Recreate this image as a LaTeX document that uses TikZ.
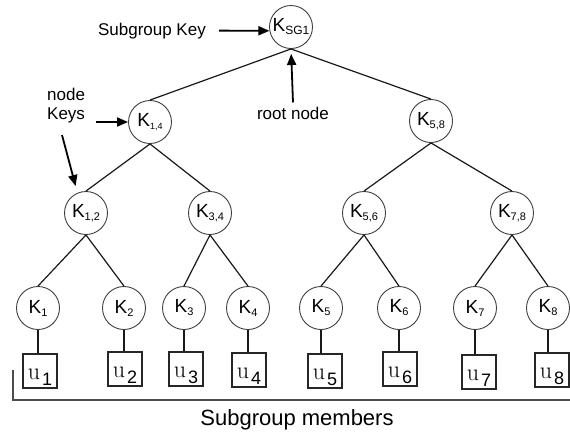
\documentclass[tikz,border=0pt]{standalone}
\usepackage{fontspec}
\setsansfont{Liberation Sans}
\usetikzlibrary{arrows.meta}
\newcommand{\Kn}[2][11]{{\fontsize{19}{19}\selectfont K}\raisebox{-3pt}{\fontsize{#1}{#1}\selectfont #2}}
\newcommand{\Un}[1]{{\rmfamily\fontsize{24}{24}\selectfont u}\hspace{2pt}\raisebox{-6pt}{\sffamily\fontsize{18}{18}\selectfont #1}}
\begin{document}
\begin{tikzpicture}[x=1pt,y=-1pt,
  kc/.style={circle, draw=black!75, line width=0.9pt, minimum size=43pt, inner sep=0pt, font=\sffamily},
  ub/.style={draw=black!85, line width=1.1pt, minimum size=34pt, inner sep=0pt, text height=25pt, text depth=9pt},
  edge/.style={line width=1.2pt, black!90},
  arr/.style={line width=1.8pt, -{Triangle[length=11pt,width=9pt]}},
  lbl/.style={font=\sffamily\fontsize{17}{17}\selectfont, inner sep=0pt},
  bracket/.style={line width=1.3pt, black!70}]
\fill[white] (0,0) rectangle (570,437);
\useasboundingbox (0,0) rectangle (570,437);

% tree nodes
\node[kc] (root) at (291,27) {\Kn[12]{SG1}};
\node[kc] (k14) at (150,122) {\Kn[9]{1,4}};
\node[kc] (k58) at (431,121) {\Kn{5,8}};
\node[kc] (k12) at (86,213) {\Kn{1,2}};
\node[kc] (k34) at (210,213) {\Kn{3,4}};
\node[kc] (k56) at (364,213) {\Kn{5,6}};
\node[kc] (k78) at (512,213) {\Kn{7,8}};
\node[kc] (k1) at (38,308) {\Kn{1}};
\node[kc] (k2) at (124,308) {\Kn{2}};
\node[kc] (k3) at (184,308) {\Kn{3}};
\node[kc] (k4) at (248,308) {\Kn{4}};
\node[kc] (k5) at (321,308) {\Kn{5}};
\node[kc] (k6) at (399,308) {\Kn{6}};
\node[kc] (k7) at (475,308) {\Kn{7}};
\node[kc] (k8) at (548,308) {\Kn{8}};

% member boxes
\node[ub] (u1) at (40,371) {\Un{1}};
\node[ub] (u2) at (125,369) {\Un{2}};
\node[ub] (u3) at (186,369) {\Un{3}};
\node[ub] (u4) at (249,370) {\Un{4}};
\node[ub] (u5) at (325,371) {\Un{5}};
\node[ub] (u6) at (400,369) {\Un{6}};
\node[ub] (u7) at (479,372) {\Un{7}};
\node[ub] (u8) at (552,370) {\Un{8}};

% tree edges
\draw[edge] (root.south) -- (k14.north);
\draw[edge] (root.south) -- (k58.north);
\draw[edge] (k14.south) -- (k12.north);
\draw[edge] (k14.south) -- (k34.north);
\draw[edge] (k58.south) -- (k56.north);
\draw[edge] (k58.south) -- (k78.north);
\draw[edge] (k12.south) -- (k1.north);
\draw[edge] (k12.south) -- (k2.north);
\draw[edge] (k34.south) -- (k3.north);
\draw[edge] (k34.south) -- (k4.north);
\draw[edge] (k56.south) -- (k5.north);
\draw[edge] (k56.south) -- (k6.north);
\draw[edge] (k78.south) -- (k7.north);
\draw[edge] (k78.south) -- (k8.north);
\foreach \i in {1,...,8}{\draw[edge] (k\i.south) -- (k\i.south |- u\i.north);}

% labels
\node[lbl, anchor=base east] (sgk) at (206,35) {Subgroup Key};
\draw[arr] ([xshift=13pt]sgk.east) -- (root.190);
\node[lbl, anchor=base west] (nodel) at (47,100) {node};
\node[lbl, anchor=base west] (keys) at (47,119) {Keys};
\draw[arr] ([xshift=11pt]k14.west -| keys.east) -- (k14.west);
\coordinate (dstart) at (62,135);
\draw[arr, shorten >=7pt] (dstart) -- (k12.113);
\node[lbl, anchor=base] (rootl) at (293,119) {root node};
\draw[arr, shorten >=5pt] ([yshift=4pt]rootl.north) -- (root.south);

% bracket and members label
\coordinate (bl) at (13,370);
\coordinate (bc) at (13,400);
\coordinate (br) at (570,400);
\draw[bracket] (bl) -- (bc) -- (br);
\node[font=\sffamily\fontsize{22}{22}\selectfont, inner sep=0pt, anchor=base] (mem) at (297,425) {Subgroup members};
\end{tikzpicture}
\end{document}
